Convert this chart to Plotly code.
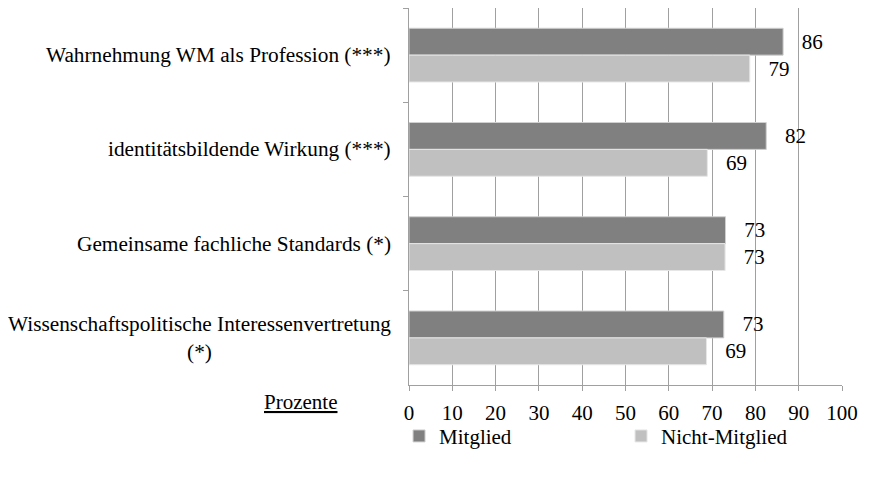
import plotly.graph_objects as go

categories = [
    "Wahrnehmung WM als Profession (***)",
    "identitätsbildende Wirkung (***)",
    "Gemeinsame fachliche Standards (*)",
    "Wissenschaftspolitische Interessenvertretung<br>(*)",
]
mitglied = [86.4, 82.5, 73.1, 72.7]
nicht_mitglied = [78.7, 68.9, 73.0, 68.7]
x_ticks = [0, 10, 20, 30, 40, 50, 60, 70, 80, 90, 100]

FONT = "Liberation Serif"
PAD = "\u00a0\u00a0\u00a0"

fig = go.Figure()
fig.add_trace(go.Bar(
    name="Mitglied", y=categories, x=mitglied, orientation="h",
    marker=dict(color="#808080", line=dict(color="#d0d0d0", width=1)),
    text=[PAD + f"{v:.0f}" for v in mitglied], textposition="outside",
    textfont=dict(family=FONT, size=21, color="black"), cliponaxis=False,
))
fig.add_trace(go.Bar(
    name="Nicht-Mitglied", y=categories, x=nicht_mitglied, orientation="h",
    marker=dict(color="#c0c0c0", line=dict(color="#e6e6e6", width=1)),
    text=[PAD + f"{v:.0f}" for v in nicht_mitglied], textposition="outside",
    textfont=dict(family=FONT, size=21, color="black"), cliponaxis=False,
))

for c in categories:
    fig.add_annotation(
        x=0, xref="paper", y=c, yref="y", text=c, showarrow=False,
        xanchor="right", yanchor="middle", align="center", xshift=-16,
        font=dict(family=FONT, size=21.3, color="black"),
    )

fig.add_annotation(
    x=-0.25, xref="paper", y=-0.045, yref="paper", text="<u>Prozente</u>",
    showarrow=False, xanchor="center", yanchor="middle",
    font=dict(family=FONT, size=21, color="black"),
)

# page body has an 8px margin, so the figure is 8px smaller and the plot
# area is shifted accordingly
fig.update_layout(
    width=861, height=469,
    margin=dict(l=401, r=27, t=0, b=92, autoexpand=False),
    paper_bgcolor="white", plot_bgcolor="white",
    barmode="group", bargap=0.43, bargroupgap=0,
    font=dict(family=FONT, size=21, color="black"),
    showlegend=True,
    legend=dict(
        orientation="h", x=-0.023, xanchor="left", y=-0.136, yanchor="middle",
        bgcolor="rgba(0,0,0,0)",
        font=dict(family=FONT, size=21, color="black"),
        entrywidth=177, entrywidthmode="pixels",
    ),
    xaxis=dict(
        range=[0, 100], tickvals=x_ticks, ticktext=[str(t) for t in x_ticks],
        showgrid=True, gridcolor="#a0a0a0", gridwidth=1,
        showline=True, linecolor="#a0a0a0", linewidth=1,
        ticks="outside", ticklen=5, tickcolor="#a0a0a0", automargin=False,
        ticklabelstandoff=4,
        zeroline=False, tickfont=dict(family=FONT, size=21, color="black"),
    ),
    yaxis=dict(
        type="category", autorange="reversed", showticklabels=False,
        tickson="boundaries", ticks="outside", ticklen=5, tickcolor="#a0a0a0",
        showgrid=False, showline=True, linecolor="#a0a0a0", linewidth=1,
        zeroline=False, automargin=False,
    ),
)

fig.write_html("out.html")
